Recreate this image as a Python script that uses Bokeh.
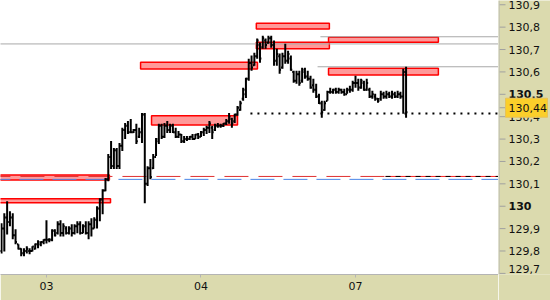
import numpy as np
from bokeh.plotting import figure
from bokeh.layouts import row
from bokeh.models import FixedTicker, Range1d, ColumnDataSource, Span
from bokeh.core.properties import value
from bokeh.embed import file_html
from bokeh.resources import INLINE

# ---------------- data ----------------
high = [129.924, 129.969, 130.022, 129.978, 129.969, 129.897, 129.830, 129.812, 129.812, 129.821,
        129.812, 129.821, 129.834, 129.848, 129.843, 129.852, 129.937, 129.857, 129.897, 129.897,
        129.933, 129.937, 129.924, 129.910, 129.910, 129.919, 129.919, 129.933, 129.933, 129.919,
        129.933, 129.933, 129.946, 129.951, 130.000, 130.036, 130.076, 130.126, 130.233, 130.291,
        130.260, 130.260, 130.282, 130.350, 130.372, 130.381, 130.390, 130.345, 130.368, 130.350,
        130.417, 130.417, 130.179, 130.211, 130.233, 130.305, 130.368, 130.368, 130.372, 130.381,
        130.368, 130.368, 130.350, 130.336, 130.323, 130.314, 130.314, 130.314, 130.323, 130.323,
        130.327, 130.336, 130.350, 130.359, 130.381, 130.359, 130.368, 130.372, 130.368, 130.372,
        130.390, 130.417, 130.395, 130.413, 130.448, 130.471, 130.529, 130.574, 130.659, 130.673,
        130.686, 130.749, 130.731, 130.762, 130.749, 130.762, 130.762, 130.740, 130.704, 130.682,
        130.686, 130.726, 130.695, 130.673, 130.605, 130.605, 130.605, 130.619, 130.619, 130.605,
        130.583, 130.569, 130.547, 130.502, 130.471, 130.471, 130.516, 130.529, 130.525, 130.529,
        130.529, 130.525, 130.525, 130.529, 130.538, 130.561, 130.583, 130.569, 130.569, 130.561,
        130.569, 130.529, 130.516, 130.502, 130.484, 130.516, 130.511, 130.516, 130.511, 130.516,
        130.511, 130.516, 130.511, 130.614, 130.623]
low = [129.789, 129.798, 129.874, 129.910, 129.852, 129.830, 129.807, 129.776, 129.776, 129.789,
       129.785, 129.798, 129.807, 129.812, 129.821, 129.830, 129.834, 129.839, 129.843, 129.865,
       129.874, 129.865, 129.865, 129.874, 129.874, 129.865, 129.874, 129.879, 129.874, 129.879,
       129.874, 129.852, 129.865, 129.901, 129.901, 129.933, 129.964, 130.067, 130.112, 130.166,
       130.166, 130.166, 130.166, 130.247, 130.300, 130.323, 130.327, 130.327, 130.278, 130.305,
       130.282, 130.013, 130.090, 130.121, 130.166, 130.224, 130.278, 130.300, 130.305, 130.327,
       130.327, 130.327, 130.305, 130.305, 130.282, 130.282, 130.291, 130.296, 130.296, 130.300,
       130.300, 130.309, 130.314, 130.323, 130.327, 130.300, 130.336, 130.350, 130.350, 130.354,
       130.363, 130.368, 130.350, 130.372, 130.404, 130.426, 130.471, 130.484, 130.561, 130.605,
       130.628, 130.659, 130.641, 130.704, 130.704, 130.726, 130.708, 130.628, 130.628, 130.592,
       130.614, 130.637, 130.637, 130.605, 130.552, 130.547, 130.538, 130.552, 130.569, 130.561,
       130.525, 130.507, 130.484, 130.457, 130.395, 130.426, 130.471, 130.502, 130.502, 130.502,
       130.502, 130.502, 130.493, 130.502, 130.507, 130.511, 130.529, 130.516, 130.525, 130.516,
       130.516, 130.484, 130.480, 130.471, 130.462, 130.471, 130.480, 130.480, 130.484, 130.480,
       130.484, 130.484, 130.480, 130.413, 130.395]
open_ = [129.80, 129.90, 129.95, 129.93, 129.95, 129.87, 129.83, 129.81, 129.79, 129.80,
         129.80, 129.80, 129.81, 129.83, 129.83, 129.84, 129.85, 129.85, 129.85, 129.89,
         129.88, 129.92, 129.88, 129.90, 129.88, 129.90, 129.88, 129.91, 129.92, 129.88,
         129.91, 129.88, 129.92, 129.90, 129.94, 129.99, 130.03, 130.07, 130.12, 130.22,
         130.18, 130.25, 130.18, 130.27, 130.34, 130.36, 130.33, 130.33, 130.34, 130.31,
         130.33, 130.41, 130.10, 130.17, 130.17, 130.22, 130.29, 130.36, 130.31, 130.36,
         130.34, 130.36, 130.33, 130.31, 130.32, 130.29, 130.30, 130.30, 130.31, 130.30,
         130.32, 130.31, 130.33, 130.34, 130.35, 130.35, 130.34, 130.36, 130.36, 130.36,
         130.37, 130.38, 130.39, 130.38, 130.41, 130.43, 130.48, 130.50, 130.57, 130.64,
         130.63, 130.67, 130.72, 130.71, 130.74, 130.73, 130.75, 130.72, 130.65, 130.67,
         130.62, 130.67, 130.65, 130.66, 130.60, 130.56, 130.59, 130.56, 130.60, 130.58,
         130.57, 130.54, 130.52, 130.49, 130.46, 130.43, 130.47, 130.51, 130.51, 130.52,
         130.51, 130.52, 130.51, 130.50, 130.52, 130.52, 130.55, 130.55, 130.53, 130.55,
         130.52, 130.52, 130.49, 130.49, 130.48, 130.48, 130.50, 130.49, 130.50, 130.49,
         130.50, 130.49, 130.50, 130.49, 130.60]
close = [129.90, 129.95, 129.93, 129.95, 129.87, 129.84, 129.81, 129.79, 129.80, 129.81,
         129.80, 129.82, 129.83, 129.84, 129.84, 129.85, 129.85, 129.85, 129.89, 129.87,
         129.92, 129.88, 129.91, 129.88, 129.90, 129.88, 129.91, 129.92, 129.88, 129.91,
         129.88, 129.92, 129.90, 129.94, 129.99, 130.03, 130.07, 130.12, 130.22, 130.18,
         130.25, 130.18, 130.27, 130.34, 130.36, 130.33, 130.33, 130.34, 130.29, 130.33,
         130.41, 130.10, 130.17, 130.13, 130.22, 130.30, 130.36, 130.31, 130.36, 130.34,
         130.36, 130.33, 130.31, 130.32, 130.29, 130.30, 130.30, 130.31, 130.30, 130.32,
         130.31, 130.33, 130.34, 130.35, 130.37, 130.33, 130.36, 130.36, 130.36, 130.37,
         130.38, 130.40, 130.37, 130.41, 130.44, 130.46, 130.52, 130.57, 130.64, 130.62,
         130.67, 130.74, 130.66, 130.75, 130.72, 130.75, 130.72, 130.65, 130.68, 130.61,
         130.67, 130.65, 130.68, 130.61, 130.56, 130.59, 130.55, 130.61, 130.58, 130.57,
         130.53, 130.52, 130.49, 130.46, 130.42, 130.46, 130.51, 130.51, 130.52, 130.51,
         130.52, 130.51, 130.50, 130.52, 130.52, 130.55, 130.55, 130.53, 130.56, 130.52,
         130.55, 130.49, 130.50, 130.48, 130.47, 130.50, 130.49, 130.50, 130.49, 130.50,
         130.49, 130.50, 130.49, 130.60, 130.42]
bar_index = list(range(len(high)))

day_labels = ["03", "04", "07"]
day_start = [16, 71, 126]

price_ticks = [129.7, 129.8, 129.9, 130.0, 130.1, 130.2, 130.3, 130.4, 130.5, 130.6, 130.7, 130.8, 130.9]
price_labels = ["129,7", "129,8", "129,9", "130", "130,1", "130,2", "130,3", "130,4", "130,5",
                "130,6", "130,7", "130,8", "130,9"]
bold_ticks = [130.0, 130.5]
last_price = 130.44
last_label = "130,44"
last_close_level = 130.414

# supply/demand zones (bar index, price)
zone_left = [-5, -5, 53.4, 49.5, 90.7, 90.7, 116.4, 116.4]
zone_right = [38.4, 38.8, 84.0, 91.1, 116.7, 116.7, 155.5, 155.5]
zone_top = [130.139, 130.033, 130.404, 130.643, 130.817, 130.732, 130.755, 130.616]
zone_bottom = [130.117, 130.015, 130.363, 130.613, 130.792, 130.704, 130.732, 130.586]

# horizontal levels
gray_levels = [130.725, 130.757, 130.623]
gray_start = [-5, 113.5, 112.5]
red_level = 130.133
blue_level = 130.120
mixed_start = 136.7
dotted_start = 88.6

# ---------------- main figure ----------------
X0, X1 = -0.36, 176.9
Y0, Y1 = 129.695, 130.919
TAN = "#dbdaae"
GRAY = "#b4b4b4"
font = "DejaVu Sans"

p = figure(width=498, height=300, output_backend="svg", toolbar_location=None,
           x_range=Range1d(X0, X1), y_range=Range1d(Y0, Y1),
           y_axis_location=None,
           min_border_left=0, min_border_top=0, min_border_right=0, min_border_bottom=26)
p.background_fill_color = "white"
p.border_fill_color = TAN
p.outline_line_color = None
p.xgrid.visible = False
p.ygrid.visible = False

p.quad(left=zone_left, right=zone_right, top=zone_top, bottom=zone_bottom,
       fill_color="#ff9999", line_color="#ff0000", line_width=1.5)

for lv, st in zip(gray_levels, gray_start):
    p.segment(x0=[st], x1=[X1 + 5], y0=[lv], y1=[lv], line_color="#a9a9a9", line_width=1)
p.segment(x0=[X0 - 5], x1=[mixed_start], y0=[red_level], y1=[red_level],
          line_color="#e03030", line_width=1, line_dash="24 10")
p.segment(x0=[mixed_start], x1=[X1 + 5], y0=[red_level], y1=[red_level],
          line_color="#ff2020", line_width=1)
p.segment(x0=[mixed_start], x1=[X1 + 5], y0=[red_level], y1=[red_level],
          line_color="black", line_width=1, line_dash="5 5")
p.segment(x0=[X0 - 5], x1=[X1 + 5], y0=[blue_level], y1=[blue_level],
          line_color="#4a86e8", line_width=1, line_dash="24 9")
p.segment(x0=[dotted_start], x1=[X1 + 5], y0=[last_close_level], y1=[last_close_level],
          line_color="black", line_width=2, line_dash="2 5")

bi = np.array(bar_index, dtype=float)
p.segment(x0=bi, x1=bi, y0=low, y1=high, line_color="black", line_width=2)
p.segment(x0=bi - 0.5, x1=bi, y0=open_, y1=open_, line_color="black", line_width=2)
p.segment(x0=bi, x1=bi + 0.5, y0=close, y1=close, line_color="black", line_width=2)

xa = p.xaxis[0]
xa.ticker = FixedTicker(ticks=day_start)
xa.major_label_overrides = {d: l for d, l in zip(day_start, day_labels)}
xa.axis_line_color = GRAY
xa.major_tick_line_color = GRAY
xa.major_tick_out = 3
xa.major_tick_in = 0
xa.minor_tick_line_color = None
xa.major_label_standoff = 4
xa.major_label_text_font = font
xa.major_label_text_font_size = "11px"
xa.major_label_text_color = "#111111"

# ---------------- right price scale (x in screen pixels of the panel) ----------------
q = figure(width=52, height=300, output_backend="svg", toolbar_location=None,
           x_range=Range1d(0, 52), y_range=p.y_range,
           x_axis_location=None, y_axis_location=None,
           min_border_left=0, min_border_top=0, min_border_right=0, min_border_bottom=26)
q.background_fill_color = TAN
q.border_fill_color = TAN
q.outline_line_color = None
q.xgrid.visible = False
q.ygrid.visible = False

q.add_layout(Span(location=0.5, dimension="height", line_color=GRAY, line_width=1))
all_ticks = price_ticks + [last_price]
q.segment(x0=[1] * len(all_ticks), x1=[7] * len(all_ticks), y0=all_ticks, y1=all_ticks,
          line_color="#a0a0a0", line_width=1)

styles = ["bold" if t in bold_ticks else "normal" for t in price_ticks]
baselines = ["bottom" if t == min(price_ticks) else "middle" for t in price_ticks]
src = ColumnDataSource(dict(y=price_ticks, text=price_labels, style=styles, base=baselines))
q.text(x=10, y="y", text="text", source=src, text_font=value(font), text_font_size="11px",
       text_font_style="style", text_baseline="base", text_color="#111111")

q.rect(x=[28], y=[last_price], width=42, height=19, height_units="screen",
       fill_color="#fbcf2a", line_color="#e6c25a", line_width=1)
q.text(x=[10], y=[last_price], text=[last_label], text_font=value(font), text_font_size="11px",
       text_baseline="middle", text_color="#111111")

layout = row(p, q)
open("out.html", "w").write(file_html(layout, INLINE))
